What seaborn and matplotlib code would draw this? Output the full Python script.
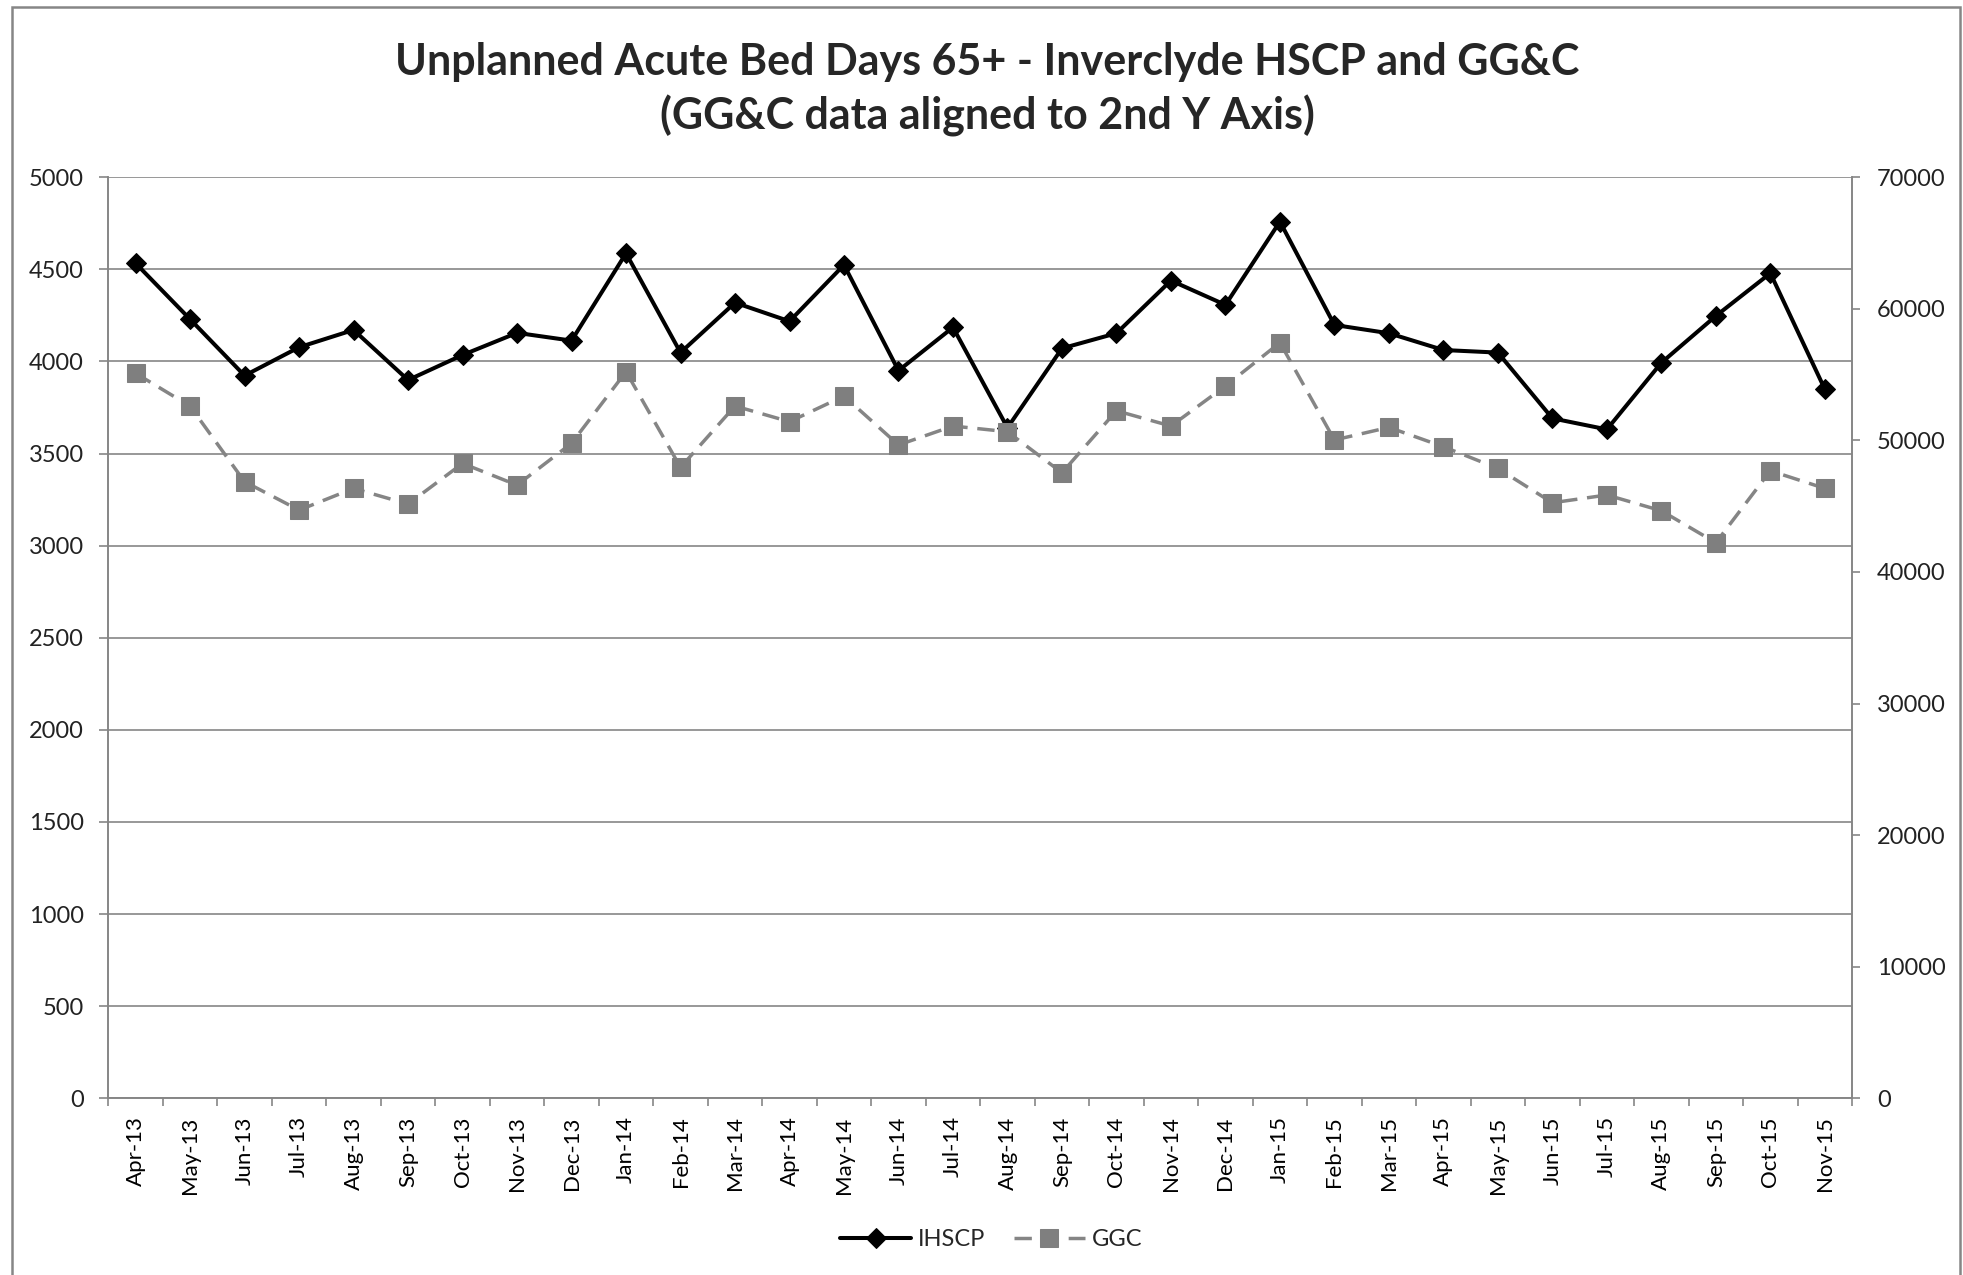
import seaborn as sns
import pandas as pd
import matplotlib.pyplot as plt
from matplotlib.patches import Rectangle

months = ['Apr-13', 'May-13', 'Jun-13', 'Jul-13', 'Aug-13', 'Sep-13', 'Oct-13', 'Nov-13',
          'Dec-13', 'Jan-14', 'Feb-14', 'Mar-14', 'Apr-14', 'May-14', 'Jun-14', 'Jul-14',
          'Aug-14', 'Sep-14', 'Oct-14', 'Nov-14', 'Dec-14', 'Jan-15', 'Feb-15', 'Mar-15',
          'Apr-15', 'May-15', 'Jun-15', 'Jul-15', 'Aug-15', 'Sep-15', 'Oct-15', 'Nov-15']

# Inverclyde HSCP (left axis)
ihscp = [4533, 4229, 3923, 4077, 4171, 3899, 4035, 4155, 4113, 4587, 4048, 4319,
         4218, 4524, 3950, 4185, 3640, 4071, 4153, 4439, 4307, 4759, 4198, 4153,
         4062, 4048, 3691, 3631, 3993, 4247, 4479, 3849]

# GG&C (right axis)
ggc = [55100, 52600, 46860, 44700, 46350, 45160, 48250, 46600, 49780, 55220, 47950, 52610,
       51420, 53370, 49650, 51090, 50660, 47540, 52250, 51090, 54130, 57430, 50030, 50990,
       49520, 47870, 45260, 45850, 44650, 42220, 47690, 46350]

df = pd.DataFrame({'idx': range(len(months)), 'month': months,
                   'IHSCP': ihscp, 'GGC': ggc})

sns.set_style('white')
plt.rcParams['font.family'] = ['Lato', 'DejaVu Sans']

grid_col = '#868686'

fig, ax = plt.subplots(figsize=(19.63, 12.75), dpi=100)
fig.subplots_adjust(left=0.0552, right=0.9435, top=0.861, bottom=0.1386)
ax2 = ax.twinx()

sns.lineplot(data=df, x='idx', y='IHSCP', ax=ax, color='black', lw=2.9,
             marker='D', markersize=10, markeredgecolor='black', label='IHSCP',
             legend=False, zorder=3)
sns.lineplot(data=df, x='idx', y='GGC', ax=ax2, color='#858585', lw=2.5,
             linestyle=(0, (5, 2.8)), marker='s', markersize=13,
             markerfacecolor='#7f7f7f', markeredgecolor='#7f7f7f', label='GGC',
             legend=False)

ax.set_xlim(-0.5, len(months) - 0.5)
ax.set_ylim(0, 5000)
ax2.set_ylim(0, 70000)
ax.set_yticks(range(0, 5001, 500))
ax2.set_yticks(range(0, 70001, 10000))
ax.set_xticks(range(len(months)))
ax.set_xticklabels(months, rotation=90)
ax.set_xticks([i - 0.5 for i in range(len(months) + 1)], minor=True)
ax.set_xlabel('')
ax.set_ylabel('')
ax2.set_ylabel('')

ax.yaxis.grid(True, color=grid_col, lw=1.2)
ax.set_axisbelow(True)

for a in (ax, ax2):
    for side in ('left', 'right', 'bottom'):
        a.spines[side].set_color(grid_col)
        a.spines[side].set_linewidth(1.2)
    a.spines['top'].set_visible(False)

ax.tick_params(axis='y', which='major', length=6.5, width=1.2, color=grid_col,
               pad=11, labelsize=17, labelcolor='#222222', left=True)
ax2.tick_params(axis='y', which='major', length=6, width=1.2, color=grid_col,
                pad=12, labelsize=17, labelcolor='#222222', right=True)
ax.tick_params(axis='x', which='major', length=0, pad=13, labelsize=16,
               labelcolor='black')
ax.tick_params(axis='x', which='minor', length=6, width=1.2, color=grid_col,
               bottom=True)

fig.text(0.503, 0.930, 'Unplanned Acute Bed Days 65+ - Inverclyde HSCP and GG&C\n'
         '(GG&C data aligned to 2nd Y Axis)', ha='center', va='center',
         fontsize=31, fontweight='bold', linespacing=1.38)

h1, l1 = ax.get_legend_handles_labels()
h2, l2 = ax2.get_legend_handles_labels()
fig.legend(h1 + h2, l1 + l2, loc='center', bbox_to_anchor=(0.505, 0.028), ncol=2,
           frameon=False, fontsize=17, handlelength=3.0, handletextpad=0.3,
           columnspacing=1.2)

fig.add_artist(Rectangle((12.3 / 1963, -0.05), (1960 - 12.3) / 1963, 1.05 - 6.7 / 1275,
                         transform=fig.transFigure, fill=False,
                         edgecolor=grid_col, lw=1.8))

fig.savefig('out.png', dpi=100)
